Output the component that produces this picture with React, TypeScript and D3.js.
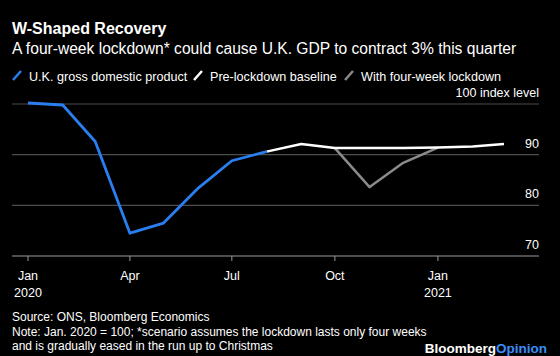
import React from "react";
import * as d3 from "d3";

const months = ["2020-01","2020-02","2020-03","2020-04","2020-05","2020-06","2020-07","2020-08","2020-09","2020-10","2020-11","2020-12","2021-01","2021-02","2021-03"];
const gdpValues = [100.2, 99.8, 92.6, 74.5, 76.5, 83.4, 88.8, 90.6];
const baselineMonths = ["2020-08","2020-09","2020-10","2020-11","2020-12","2021-01","2021-02","2021-03"];
const baselineValues = [90.6, 92.1, 91.3, 91.3, 91.3, 91.4, 91.6, 92.1];
const lockdownMonths = ["2020-10","2020-11","2020-12","2021-01"];
const lockdownValues = [91.3, 83.6, 88.4, 91.4];
const yTicks = [70, 80, 90, 100];
const xTicks = [
  { date: "2020-01", label: "Jan", year: "2020" },
  { date: "2020-04", label: "Apr", year: "" },
  { date: "2020-07", label: "Jul", year: "" },
  { date: "2020-10", label: "Oct", year: "" },
  { date: "2021-01", label: "Jan", year: "2021" },
];
const legendItems = [
  { label: "U.K. gross domestic product", color: "#2a7ff0", x: 13 },
  { label: "Pre-lockdown baseline", color: "#ffffff", x: 194 },
  { label: "With four-week lockdown", color: "#8a8a8a", x: 345 },
];

const parse = d3.timeParse("%Y-%m");
const FONT = "'Liberation Sans', Arial, Helvetica, sans-serif";

export default function App() {
  const W = 560, H = 356;
  const x = d3.scaleTime().domain([parse("2020-01")!, parse("2021-03")!]).range([28, 504]);
  const y = d3.scaleLinear().domain([70, 100]).range([256, 104]);
  const line = d3.line<[Date, number]>().x(d => x(d[0])).y(d => y(d[1]));

  const gdp = gdpValues.map((v, i) => [parse(months[i])!, v] as [Date, number]);
  const base = baselineValues.map((v, i) => [parse(baselineMonths[i])!, v] as [Date, number]);
  const lock = lockdownValues.map((v, i) => [parse(lockdownMonths[i])!, v] as [Date, number]);

  const gridLeft = 12, gridRight = 539;

  return (
    <svg width={W} height={H} style={{ display: "block", position: "absolute", left: 0, top: 0, background: "#000" }} fontFamily={FONT}>
      <rect x={0} y={0} width={W} height={H} fill="#000" />
      <text x={12} y={34} fill="#fff" fontSize={16} fontWeight="bold">W-Shaped Recovery</text>
      <text x={12} y={53.5} fill="#fff" fontSize={15.6}>A four-week lockdown* could cause U.K. GDP to contract 3% this quarter</text>
      {legendItems.map(l => (
        <g key={l.label}>
          <line x1={l.x} y1={80} x2={l.x + 8} y2={71} stroke={l.color} strokeWidth={2.5} />
          <text x={l.x + 16} y={80.5} fill="#fff" fontSize={12.6}>{l.label}</text>
        </g>
      ))}
      {yTicks.map(t => (
        <g key={t}>
          <line x1={gridLeft} x2={gridRight} y1={y(t)} y2={y(t)} stroke={t === 70 ? "#9a9a9a" : "#4d4d4d"} strokeWidth={1.2} />
          <text x={gridRight} y={y(t) - 7} fill="#fff" fontSize={12.5} textAnchor="end">{t === 100 ? "100 index level" : t}</text>
        </g>
      ))}
      {xTicks.map(t => {
        const xx = x(parse(t.date)!);
        return (
          <g key={t.date}>
            <line x1={xx} x2={xx} y1={256} y2={261} stroke="#9a9a9a" strokeWidth={1} />
            <text x={xx} y={280} fill="#fff" fontSize={12.5} textAnchor="middle">{t.label}</text>
            {t.year && <text x={xx} y={296.5} fill="#fff" fontSize={12.5} textAnchor="middle">{t.year}</text>}
          </g>
        );
      })}
      <path d={line(lock)!} fill="none" stroke="#8a8a8a" strokeWidth={2.5} strokeLinejoin="round" />
      <path d={line(base)!} fill="none" stroke="#ffffff" strokeWidth={2.5} strokeLinejoin="round" />
      <path d={line(gdp)!} fill="none" stroke="#2a7ff0" strokeWidth={2.8} strokeLinejoin="round" />
      <text x={12} y={321} fill="#fff" fontSize={12}>Source: ONS, Bloomberg Economics</text>
      <text x={12} y={336} fill="#fff" fontSize={12}>Note: Jan. 2020 = 100; *scenario assumes the lockdown lasts only four weeks</text>
      <text x={12} y={350} fill="#fff" fontSize={12}>and is gradually eased in the run up to Christmas</text>
      <text x={547} y={353} fontSize={13.5} fontWeight="bold" textAnchor="end">
        <tspan fill="#fff">Bloomberg</tspan><tspan fill="#3b8ef5">Opinion</tspan>
      </text>
    </svg>
  );
}
